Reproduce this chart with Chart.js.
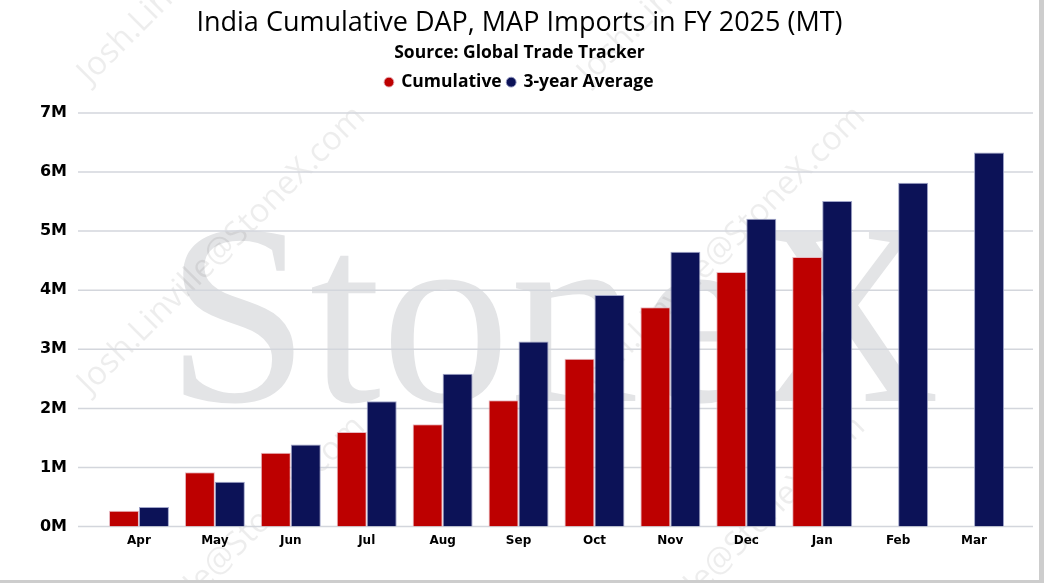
<!DOCTYPE html>
<html>
<head>
<meta charset="utf-8">
<script src="https://cdn.jsdelivr.net/npm/chart.js@4.4.1/dist/chart.umd.min.js"></script>
<style>
    html, body { margin: 0; padding: 0; background: #fff; }
    #wrap { width: 1039px; height: 580px; border-right: 5px solid #cdcdcd; border-bottom: 3px solid #cdcdcd; }
</style>
</head>
<body>
<div id="wrap"><canvas id="importsChart" width="1039" height="580"></canvas></div>
<script>
// months of the fiscal year
const months = ["Apr", "May", "Jun", "Jul", "Aug", "Sep", "Oct", "Nov", "Dec", "Jan", "Feb", "Mar"];
// cumulative imports FY 2025 (MT)
const cumulative = [270000, 920000, 1250000, 1600000, 1730000, 2140000, 2840000, 3710000, 4310000, 4560000, null, null];
// 3-year average (MT)
const threeYearAvg = [330000, 760000, 1390000, 2120000, 2585000, 3130000, 3920000, 4650000, 5210000, 5510000, 5820000, 6330000];
const yTicks = [0, 1000000, 2000000, 3000000, 4000000, 5000000, 6000000, 7000000];

// fondo blanco + marca de agua
const watermark = {
    id: 'watermark',
    afterInit(chart) {
        // un poco de aire entre la leyenda y el grafico
        const legend = chart.legend;
        if (legend) {
            const fit = legend.fit;
            legend.fit = function () {
                fit.call(this);
                this.height += 12;
            };
        }
    },
    beforeDraw(chart) {
        const ctx = chart.ctx;
        ctx.save();
        ctx.fillStyle = '#fff';
        ctx.fillRect(0, 0, chart.width, chart.height);

        ctx.fillStyle = '#e3e4e6';
        ctx.font = '258px "Liberation Serif"';
        ctx.textBaseline = 'alphabetic';
        ctx.textAlign = 'left';
        ctx.fillText('StoneX', 166, 401);

        ctx.fillStyle = 'rgba(0,0,0,0.07)';
        ctx.font = '33px "Open Sans"';
        const starts = [[90, 85], [590, 85], [90, 395], [590, 395], [90, 705], [590, 705]];
        starts.forEach(([x, y]) => {
            ctx.save();
            ctx.translate(x, y);
            ctx.rotate(-Math.PI / 4);
            ctx.fillText('Josh.Linville@StoneX.com', 0, 0);
            ctx.restore();
        });
        ctx.restore();
    }
};

// lineas de cuadricula a todo lo ancho
const fullGrid = {
    id: 'fullGrid',
    beforeDatasetsDraw(chart) {
        const ctx = chart.ctx;
        const y = chart.scales.y;
        ctx.save();
        ctx.strokeStyle = '#d3d6dc';
        ctx.lineWidth = 1.5;
        yTicks.forEach(v => {
            const py = y.getPixelForValue(v);
            ctx.beginPath();
            ctx.moveTo(78, py);
            ctx.lineTo(1033, py);
            ctx.stroke();
        });
        ctx.restore();
    }
};

const ctx = document.getElementById('importsChart').getContext('2d');
new Chart(ctx, {
    type: 'bar',
    data: {
        labels: months,
        datasets: [
            {
                label: 'Cumulative',
                data: cumulative,
                backgroundColor: '#bd0000',
                borderColor: 'rgba(230,180,190,0.9)',
                borderWidth: 1,
                categoryPercentage: 0.79,
                barPercentage: 1
            },
            {
                label: '3-year Average',
                data: threeYearAvg,
                backgroundColor: '#0c1257',
                borderColor: 'rgba(150,155,195,0.9)',
                borderWidth: 1,
                categoryPercentage: 0.79,
                barPercentage: 1
            }
        ]
    },
    options: {
        responsive: false,
        animation: false,
        layout: { padding: { left: 27, right: 27, bottom: 25 } },
        plugins: {
            title: {
                display: true,
                text: 'India Cumulative DAP, MAP Imports in FY 2025 (MT)',
                color: '#000',
                font: { family: 'Open Sans', size: 27, weight: 'normal' },
                padding: { top: 7, bottom: 0 }
            },
            subtitle: {
                display: true,
                text: 'Source: Global Trade Tracker',
                color: '#000',
                font: { family: 'Open Sans', size: 17.5, weight: 'bold' },
                padding: { top: 3, bottom: 4 }
            },
            legend: {
                position: 'top',
                labels: {
                    usePointStyle: true,
                    pointStyle: 'circle',
                    boxWidth: 7,
                    boxHeight: 7,
                    padding: 6,
                    color: '#000',
                    font: { family: 'Open Sans', size: 17.5, weight: 'bold' }
                }
            },
            tooltip: { enabled: false }
        },
        scales: {
            x: {
                grid: { display: false, drawTicks: false },
                border: { display: false },
                ticks: {
                    padding: 7,
                    color: '#000',
                    font: { family: 'DejaVu Sans', size: 12, weight: 'bold' }
                }
            },
            y: {
                min: 0,
                max: 7000000,
                grid: { display: false, drawTicks: false },
                border: { display: false },
                afterFit(scale) { scale.width = 74; },
                ticks: {
                    stepSize: 1000000,
                    padding: 34,
                    color: '#000',
                    font: { family: 'DejaVu Sans', size: 16, weight: 'bold' },
                    callback: v => (v / 1000000) + 'M'
                }
            }
        }
    },
    plugins: [watermark, fullGrid]
});
</script>
</body>
</html>
